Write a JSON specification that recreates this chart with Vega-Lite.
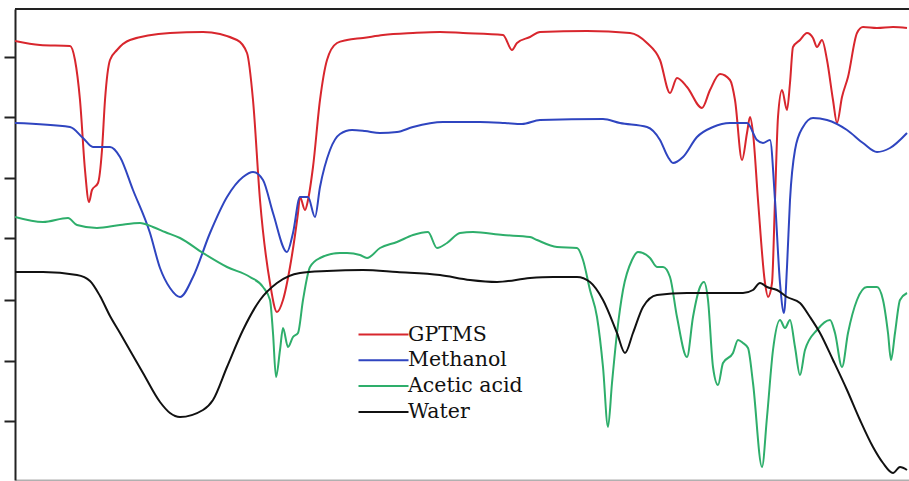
{
  "$schema": "https://vega.github.io/schema/vega-lite/v6.json",
  "width": 894,
  "height": 471,
  "autosize": {"type": "none"},
  "padding": {"left": 15, "top": 9, "right": 0, "bottom": 1},
  "background": "white",
  "config": {"view": {"stroke": null}},
  "data": {"values": [
    {"s":"GPTMS","x":15,"y":439},{"s":"GPTMS","x":40,"y":435},{"s":"GPTMS","x":70,"y":434},{"s":"GPTMS","x":75,"y":420},{"s":"GPTMS","x":80,"y":380},{"s":"GPTMS","x":85,"y":310},{"s":"GPTMS","x":89,"y":278},{"s":"GPTMS","x":92,"y":290},{"s":"GPTMS","x":98,"y":297},{"s":"GPTMS","x":102,"y":330},{"s":"GPTMS","x":105,"y":380},{"s":"GPTMS","x":110,"y":420},{"s":"GPTMS","x":117,"y":430},{"s":"GPTMS","x":130,"y":440},{"s":"GPTMS","x":170,"y":447},{"s":"GPTMS","x":203,"y":448},{"s":"GPTMS","x":237,"y":440},{"s":"GPTMS","x":247,"y":427},{"s":"GPTMS","x":253,"y":380},{"s":"GPTMS","x":260,"y":280},{"s":"GPTMS","x":270,"y":197},{"s":"GPTMS","x":277,"y":168},{"s":"GPTMS","x":283,"y":180},{"s":"GPTMS","x":290,"y":213},{"s":"GPTMS","x":298,"y":267},{"s":"GPTMS","x":300,"y":283},{"s":"GPTMS","x":305,"y":270},{"s":"GPTMS","x":308,"y":280},{"s":"GPTMS","x":313,"y":313},{"s":"GPTMS","x":320,"y":380},{"s":"GPTMS","x":327,"y":420},{"s":"GPTMS","x":337,"y":437},{"s":"GPTMS","x":347,"y":440},{"s":"GPTMS","x":363,"y":442},{"s":"GPTMS","x":383,"y":445},{"s":"GPTMS","x":413,"y":447},{"s":"GPTMS","x":440,"y":448},{"s":"GPTMS","x":463,"y":447},{"s":"GPTMS","x":503,"y":445},{"s":"GPTMS","x":512,"y":430},{"s":"GPTMS","x":517,"y":437},{"s":"GPTMS","x":530,"y":443},{"s":"GPTMS","x":540,"y":448},{"s":"GPTMS","x":587,"y":449},{"s":"GPTMS","x":630,"y":447},{"s":"GPTMS","x":647,"y":437},{"s":"GPTMS","x":660,"y":420},{"s":"GPTMS","x":670,"y":387},{"s":"GPTMS","x":677,"y":402},{"s":"GPTMS","x":687,"y":393},{"s":"GPTMS","x":702,"y":372},{"s":"GPTMS","x":710,"y":390},{"s":"GPTMS","x":720,"y":406},{"s":"GPTMS","x":730,"y":400},{"s":"GPTMS","x":735,"y":380},{"s":"GPTMS","x":742,"y":320},{"s":"GPTMS","x":747,"y":347},{"s":"GPTMS","x":750,"y":363},{"s":"GPTMS","x":753,"y":347},{"s":"GPTMS","x":758,"y":280},{"s":"GPTMS","x":765,"y":197},{"s":"GPTMS","x":768,"y":183},{"s":"GPTMS","x":772,"y":197},{"s":"GPTMS","x":775,"y":280},{"s":"GPTMS","x":778,"y":363},{"s":"GPTMS","x":782,"y":390},{"s":"GPTMS","x":787,"y":370},{"s":"GPTMS","x":790,"y":397},{"s":"GPTMS","x":793,"y":433},{"s":"GPTMS","x":800,"y":440},{"s":"GPTMS","x":807,"y":447},{"s":"GPTMS","x":813,"y":442},{"s":"GPTMS","x":817,"y":433},{"s":"GPTMS","x":822,"y":440},{"s":"GPTMS","x":827,"y":420},{"s":"GPTMS","x":833,"y":380},{"s":"GPTMS","x":837,"y":357},{"s":"GPTMS","x":842,"y":383},{"s":"GPTMS","x":848,"y":403},{"s":"GPTMS","x":857,"y":447},{"s":"GPTMS","x":863,"y":453},{"s":"GPTMS","x":877,"y":452},{"s":"GPTMS","x":893,"y":453},{"s":"GPTMS","x":907,"y":452},
    {"s":"Methanol","x":15,"y":357},{"s":"Methanol","x":70,"y":353},{"s":"Methanol","x":83,"y":342},{"s":"Methanol","x":93,"y":333},{"s":"Methanol","x":110,"y":333},{"s":"Methanol","x":120,"y":323},{"s":"Methanol","x":133,"y":290},{"s":"Methanol","x":150,"y":247},{"s":"Methanol","x":160,"y":212},{"s":"Methanol","x":170,"y":192},{"s":"Methanol","x":180,"y":183},{"s":"Methanol","x":193,"y":203},{"s":"Methanol","x":210,"y":247},{"s":"Methanol","x":227,"y":283},{"s":"Methanol","x":243,"y":303},{"s":"Methanol","x":253,"y":308},{"s":"Methanol","x":263,"y":300},{"s":"Methanol","x":273,"y":267},{"s":"Methanol","x":287,"y":228},{"s":"Methanol","x":293,"y":247},{"s":"Methanol","x":300,"y":283},{"s":"Methanol","x":308,"y":283},{"s":"Methanol","x":315,"y":263},{"s":"Methanol","x":320,"y":293},{"s":"Methanol","x":330,"y":330},{"s":"Methanol","x":340,"y":346},{"s":"Methanol","x":352,"y":350},{"s":"Methanol","x":365,"y":349},{"s":"Methanol","x":380,"y":347},{"s":"Methanol","x":397,"y":348},{"s":"Methanol","x":413,"y":353},{"s":"Methanol","x":443,"y":358},{"s":"Methanol","x":480,"y":358},{"s":"Methanol","x":505,"y":357},{"s":"Methanol","x":522,"y":356},{"s":"Methanol","x":540,"y":360},{"s":"Methanol","x":603,"y":361},{"s":"Methanol","x":620,"y":357},{"s":"Methanol","x":647,"y":353},{"s":"Methanol","x":660,"y":340},{"s":"Methanol","x":668,"y":323},{"s":"Methanol","x":673,"y":317},{"s":"Methanol","x":683,"y":323},{"s":"Methanol","x":697,"y":343},{"s":"Methanol","x":713,"y":353},{"s":"Methanol","x":730,"y":357},{"s":"Methanol","x":747,"y":357},{"s":"Methanol","x":757,"y":340},{"s":"Methanol","x":763,"y":337},{"s":"Methanol","x":770,"y":340},{"s":"Methanol","x":775,"y":280},{"s":"Methanol","x":780,"y":197},{"s":"Methanol","x":784,"y":167},{"s":"Methanol","x":787,"y":213},{"s":"Methanol","x":790,"y":280},{"s":"Methanol","x":795,"y":330},{"s":"Methanol","x":803,"y":353},{"s":"Methanol","x":813,"y":362},{"s":"Methanol","x":827,"y":360},{"s":"Methanol","x":847,"y":350},{"s":"Methanol","x":863,"y":337},{"s":"Methanol","x":877,"y":328},{"s":"Methanol","x":890,"y":332},{"s":"Methanol","x":907,"y":347},
    {"s":"Acetic acid","x":15,"y":263},{"s":"Acetic acid","x":43,"y":258},{"s":"Acetic acid","x":68,"y":262},{"s":"Acetic acid","x":77,"y":255},{"s":"Acetic acid","x":97,"y":252},{"s":"Acetic acid","x":120,"y":255},{"s":"Acetic acid","x":140,"y":257},{"s":"Acetic acid","x":153,"y":253},{"s":"Acetic acid","x":165,"y":248},{"s":"Acetic acid","x":180,"y":242},{"s":"Acetic acid","x":203,"y":227},{"s":"Acetic acid","x":227,"y":213},{"s":"Acetic acid","x":250,"y":203},{"s":"Acetic acid","x":263,"y":193},{"s":"Acetic acid","x":270,"y":180},{"s":"Acetic acid","x":273,"y":147},{"s":"Acetic acid","x":276,"y":103},{"s":"Acetic acid","x":280,"y":130},{"s":"Acetic acid","x":283,"y":152},{"s":"Acetic acid","x":288,"y":133},{"s":"Acetic acid","x":293,"y":143},{"s":"Acetic acid","x":298,"y":147},{"s":"Acetic acid","x":303,"y":180},{"s":"Acetic acid","x":310,"y":213},{"s":"Acetic acid","x":320,"y":222},{"s":"Acetic acid","x":340,"y":227},{"s":"Acetic acid","x":347,"y":227},{"s":"Acetic acid","x":360,"y":225},{"s":"Acetic acid","x":367,"y":222},{"s":"Acetic acid","x":380,"y":232},{"s":"Acetic acid","x":397,"y":238},{"s":"Acetic acid","x":413,"y":245},{"s":"Acetic acid","x":428,"y":248},{"s":"Acetic acid","x":437,"y":232},{"s":"Acetic acid","x":447,"y":237},{"s":"Acetic acid","x":460,"y":247},{"s":"Acetic acid","x":473,"y":248},{"s":"Acetic acid","x":503,"y":245},{"s":"Acetic acid","x":530,"y":243},{"s":"Acetic acid","x":537,"y":240},{"s":"Acetic acid","x":557,"y":233},{"s":"Acetic acid","x":577,"y":232},{"s":"Acetic acid","x":583,"y":220},{"s":"Acetic acid","x":590,"y":190},{"s":"Acetic acid","x":597,"y":163},{"s":"Acetic acid","x":603,"y":113},{"s":"Acetic acid","x":608,"y":53},{"s":"Acetic acid","x":612,"y":97},{"s":"Acetic acid","x":617,"y":147},{"s":"Acetic acid","x":623,"y":190},{"s":"Acetic acid","x":632,"y":220},{"s":"Acetic acid","x":638,"y":228},{"s":"Acetic acid","x":650,"y":222},{"s":"Acetic acid","x":657,"y":213},{"s":"Acetic acid","x":663,"y":213},{"s":"Acetic acid","x":670,"y":203},{"s":"Acetic acid","x":677,"y":163},{"s":"Acetic acid","x":687,"y":123},{"s":"Acetic acid","x":693,"y":163},{"s":"Acetic acid","x":700,"y":193},{"s":"Acetic acid","x":704,"y":198},{"s":"Acetic acid","x":708,"y":180},{"s":"Acetic acid","x":713,"y":113},{"s":"Acetic acid","x":718,"y":95},{"s":"Acetic acid","x":723,"y":117},{"s":"Acetic acid","x":733,"y":127},{"s":"Acetic acid","x":738,"y":140},{"s":"Acetic acid","x":743,"y":137},{"s":"Acetic acid","x":748,"y":132},{"s":"Acetic acid","x":753,"y":97},{"s":"Acetic acid","x":762,"y":13},{"s":"Acetic acid","x":767,"y":63},{"s":"Acetic acid","x":773,"y":130},{"s":"Acetic acid","x":780,"y":160},{"s":"Acetic acid","x":785,"y":152},{"s":"Acetic acid","x":790,"y":160},{"s":"Acetic acid","x":795,"y":133},{"s":"Acetic acid","x":800,"y":105},{"s":"Acetic acid","x":805,"y":130},{"s":"Acetic acid","x":817,"y":150},{"s":"Acetic acid","x":830,"y":160},{"s":"Acetic acid","x":835,"y":147},{"s":"Acetic acid","x":842,"y":113},{"s":"Acetic acid","x":848,"y":147},{"s":"Acetic acid","x":857,"y":180},{"s":"Acetic acid","x":867,"y":193},{"s":"Acetic acid","x":877,"y":193},{"s":"Acetic acid","x":883,"y":180},{"s":"Acetic acid","x":888,"y":147},{"s":"Acetic acid","x":891,"y":120},{"s":"Acetic acid","x":895,"y":147},{"s":"Acetic acid","x":900,"y":180},{"s":"Acetic acid","x":907,"y":187},
    {"s":"Water","x":15,"y":208},{"s":"Water","x":43,"y":208},{"s":"Water","x":77,"y":205},{"s":"Water","x":90,"y":199},{"s":"Water","x":100,"y":184},{"s":"Water","x":110,"y":164},{"s":"Water","x":120,"y":147},{"s":"Water","x":143,"y":107},{"s":"Water","x":160,"y":78},{"s":"Water","x":170,"y":67},{"s":"Water","x":180,"y":63},{"s":"Water","x":203,"y":70},{"s":"Water","x":213,"y":80},{"s":"Water","x":227,"y":113},{"s":"Water","x":243,"y":150},{"s":"Water","x":260,"y":180},{"s":"Water","x":277,"y":197},{"s":"Water","x":300,"y":207},{"s":"Water","x":327,"y":209},{"s":"Water","x":363,"y":210},{"s":"Water","x":397,"y":208},{"s":"Water","x":440,"y":205},{"s":"Water","x":470,"y":200},{"s":"Water","x":497,"y":198},{"s":"Water","x":530,"y":202},{"s":"Water","x":553,"y":203},{"s":"Water","x":577,"y":203},{"s":"Water","x":590,"y":198},{"s":"Water","x":603,"y":180},{"s":"Water","x":617,"y":147},{"s":"Water","x":625,"y":127},{"s":"Water","x":633,"y":147},{"s":"Water","x":643,"y":173},{"s":"Water","x":657,"y":185},{"s":"Water","x":687,"y":187},{"s":"Water","x":730,"y":187},{"s":"Water","x":743,"y":187},{"s":"Water","x":753,"y":190},{"s":"Water","x":760,"y":197},{"s":"Water","x":767,"y":193},{"s":"Water","x":777,"y":190},{"s":"Water","x":787,"y":183},{"s":"Water","x":800,"y":177},{"s":"Water","x":810,"y":163},{"s":"Water","x":820,"y":147},{"s":"Water","x":833,"y":120},{"s":"Water","x":847,"y":90},{"s":"Water","x":860,"y":60},{"s":"Water","x":873,"y":33},{"s":"Water","x":883,"y":17},{"s":"Water","x":893,"y":7},{"s":"Water","x":900,"y":13},{"s":"Water","x":907,"y":10}
  ]},
  "layer": [
    {
      "mark": {"type": "line", "strokeWidth": 2, "interpolate": "monotone", "clip": true},
      "encoding": {
        "x": {"field": "x", "type": "quantitative", "scale": {"domain": [15, 909], "nice": false, "zero": false},
              "axis": {"orient": "bottom", "title": null, "labels": false, "ticks": false, "grid": false, "domainColor": "#b0b0b0", "domainWidth": 2}},
        "y": {"field": "y", "type": "quantitative", "scale": {"domain": [0, 471], "nice": false, "zero": false},
              "axis": {"title": null, "labels": false, "grid": false, "values": [59, 119, 180, 242, 302, 363, 423], "ticks": true, "tickSize": 11, "tickWidth": 2, "tickColor": "#222", "domainColor": "#222", "domainWidth": 2}},
        "color": {"field": "s", "type": "nominal",
                  "scale": {"domain": ["GPTMS", "Methanol", "Acetic acid", "Water"], "range": ["#d8262d", "#2f45c0", "#2eae6b", "#111111"]},
                  "legend": {"title": null, "orient": "none", "legendX": 355, "legendY": 314.5, "padding": 0,
                             "symbolType": "M-2.25,0H2.75", "symbolSize": 400, "symbolStrokeWidth": 2,
                             "labelFont": "DejaVu Serif", "labelFontSize": 20.5, "labelColor": "#111", "labelOffset": 16,
                             "rowPadding": 3.8, "labelLimit": 300}}
      }
    },
    {
      "mark": {"type": "rule", "color": "#222", "strokeWidth": 2},
      "encoding": {"y": {"datum": 471}}
    }
  ]
}
